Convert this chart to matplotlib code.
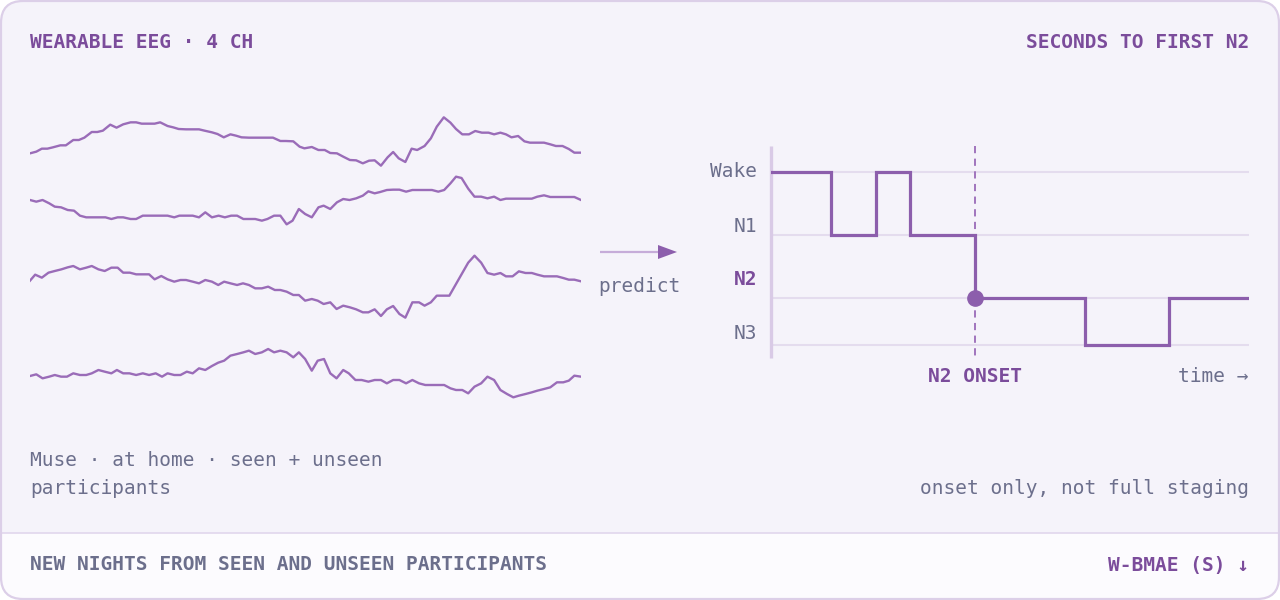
import matplotlib
matplotlib.use("Agg")
import matplotlib.pyplot as plt
from matplotlib.patches import FancyBboxPatch, Rectangle, Polygon
import numpy as np

# ---------------- data ----------------
# EEG channels: time in ms, amplitude in arbitrary units
ch1_t = [0,17,32,47,62,82,97,117,132,147,167,182,197,217,234,252,272,287,302,322,337,352,372,387,402,422,442,457,472,492,507,524,542,557,572,592,612,632,657,677,692,712,729,742,762,780,797,812,830,847,865,882,900,917,932,949,967,982,997,1015,1032,1047,1067,1084,1100,1119,1137,1152,1169,1187,1204,1222,1240,1255,1272,1287,1302,1320,1337,1352,1372,1390,1407,1422,1440,1457,1472,1490]
ch1_v = [0,5,14,14,18,24,24,40,40,47,64,64,68,86,77,87,93,93,89,89,89,93,82,78,73,72,72,72,68,63,58,48,57,53,48,47,47,47,47,37,37,36,20,15,19,10,10,1,0,-10,-20,-21,-30,-22,-21,-37,-12,4,-15,-26,14,10,22,45,80,108,92,73,57,57,67,62,62,57,62,57,48,52,36,32,32,32,27,22,22,13,2,2]

ch2_t = [0,17,34,52,67,84,102,119,135,152,172,187,204,220,237,252,272,287,305,322,340,357,372,390,404,422,440,457,474,492,510,527,544,560,577,592,609,627,642,660,677,694,710,727,744,762,780,794,812,830,847,864,882,900,915,932,947,965,982,999,1017,1034,1052,1069,1087,1104,1120,1137,1152,1167,1185,1202,1220,1237,1255,1272,1287,1305,1322,1340,1357,1372,1390,1407,1425,1442,1457,1472,1490]
ch2_v = [0,-5,0,-10,-20,-22,-30,-32,-47,-52,-52,-52,-52,-57,-52,-52,-57,-57,-47,-47,-47,-47,-47,-52,-47,-47,-47,-52,-37,-52,-47,-52,-47,-47,-57,-57,-57,-62,-57,-47,-47,-73,-62,-27,-42,-52,-22,-17,-27,-7,3,0,5,13,26,20,24,30,31,31,25,30,30,30,30,25,30,50,70,66,34,10,10,5,10,0,4,4,4,4,4,10,14,9,9,9,9,9,0]

ch3_t = [0,14,32,50,67,85,102,117,135,152,167,185,202,220,237,252,270,287,305,322,337,355,372,390,407,422,440,457,474,492,509,525,542,560,576,592,609,627,644,662,677,694,712,727,744,762,778,794,812,829,847,865,882,900,915,932,949,965,982,999,1015,1034,1052,1067,1084,1100,1117,1134,1152,1169,1185,1202,1220,1237,1255,1272,1287,1305,1322,1340,1357,1372,1390,1407,1425,1442,1457,1472,1490]
ch3_v = [0,18,9,24,29,34,40,44,34,39,44,34,29,39,39,24,24,19,19,19,4,14,4,-3,2,2,-3,-8,2,-3,-13,-3,-8,-13,-8,-13,-23,-23,-18,-28,-28,-33,-43,-43,-60,-55,-60,-70,-65,-85,-75,-80,-86,-95,-95,-86,-106,-86,-76,-100,-111,-65,-65,-75,-65,-45,-45,-45,-10,23,54,75,54,23,18,23,13,13,28,23,23,18,13,13,13,8,3,3,-2]

ch4_t = [0,17,34,52,67,84,100,117,135,152,167,185,202,220,235,252,269,287,305,322,340,357,372,390,407,424,440,457,474,492,509,525,542,560,577,592,609,627,644,660,677,694,712,727,744,762,778,795,812,829,847,862,880,897,915,932,949,965,982,999,1017,1034,1052,1069,1087,1104,1120,1137,1152,1169,1185,1202,1220,1237,1255,1272,1290,1307,1322,1340,1357,1372,1390,1407,1425,1442,1457,1472,1490]
ch4_v = [0,5,-7,-2,3,-2,-2,8,3,3,8,18,13,8,18,8,8,3,8,3,8,-2,8,3,3,13,8,23,18,30,40,46,61,66,71,76,66,71,81,71,76,71,56,71,51,16,46,51,8,-7,18,8,-12,-12,-17,-12,-12,-22,-12,-12,-22,-12,-22,-27,-27,-27,-27,-37,-42,-42,-52,-32,-22,-2,-12,-42,-54,-64,-59,-54,-49,-44,-39,-34,-19,-19,-14,1,-2]

# Hypnogram: minutes, stage per segment (steps-post)
hyp_t = [0, 6, 10.5, 14, 20.5, 31.5, 40, 48]
hyp_stage = ["Wake", "N1", "Wake", "N1", "N2", "N3", "N2", "N2"]
stage_names = ["Wake", "N1", "N2", "N3"]
onset_t = 20.5

title_left = "WEARABLE EEG · 4 CH"
title_right = "SECONDS TO FIRST N2"
note_left = ["Muse · at home · seen + unseen", "participants"]
note_right = "onset only, not full staging"
footer_left = "NEW NIGHTS FROM SEEN AND UNSEEN PARTICIPANTS"
footer_right = "W-BMAE (S) ↓"

# ---------------- style ----------------
PURPLE = "#7b4c9b"
LINE = "#8c5eac"
TRACE = "#9a6cb8"
GRAY = "#6c6f8c"
CARD = "#f5f3fa"
FOOT = "#fcfbfe"
BORDER = "#dccfe8"
GRID = "#e4dcee"
FONT = ["DejaVu Sans Mono"]
FS = 14

plt.rcParams["font.family"] = FONT

fig = plt.figure(figsize=(12.8, 6), dpi=100)
fig.patch.set_facecolor("white")

W, H = 1280, 600
bg = fig.add_axes([0, 0, 1, 1])
bg.set_xlim(0, W)
bg.set_ylim(H, 0)
bg.axis("off")

card = FancyBboxPatch((1, 1), W - 2, H - 2, boxstyle="round,pad=0,rounding_size=22",
                      fc=CARD, ec="none", zorder=0)
bg.add_patch(card)
foot = Rectangle((0, 533), W, H - 533, fc=FOOT, ec="none", zorder=0.5)
bg.add_patch(foot)
foot.set_clip_path(card)
bg.plot([1, W - 1], [533, 533], color="#e3d9ee", lw=1.3, zorder=1)
bg.add_patch(FancyBboxPatch((1, 1), W - 2, H - 2, boxstyle="round,pad=0,rounding_size=22",
                            fc="none", ec=BORDER, lw=1.6, zorder=2))

# texts
bg.text(30, 43, title_left, color=PURPLE, fontsize=FS, fontweight="bold", ha="left", va="center")
bg.text(1249, 43, title_right, color=PURPLE, fontsize=FS, fontweight="bold", ha="right", va="center")
bg.text(30, 461, note_left[0], color=GRAY, fontsize=FS, ha="left", va="center")
bg.text(30, 489, note_left[1], color=GRAY, fontsize=FS, ha="left", va="center")
bg.text(1249, 489, note_right, color=GRAY, fontsize=FS, ha="right", va="center")
bg.text(30, 565, footer_left, color=GRAY, fontsize=FS, fontweight="bold", ha="left", va="center")
bg.text(1249, 565, footer_right, color=PURPLE, fontsize=FS, fontweight="bold", ha="right", va="center")

# predict arrow
bg.plot([600, 660], [252, 252], color="#c6acd9", lw=1.6, solid_capstyle="butt", zorder=3)
bg.add_patch(Polygon([[658, 245], [677, 252], [658, 259]], closed=True, fc=LINE, ec="none", zorder=3))
bg.text(639, 287, "predict", color=GRAY, fontsize=FS, ha="center", va="center")

# ---------------- EEG traces ----------------
eeg = fig.add_axes([30 / W, 1 - 420 / H, 551 / W, 320 / H])
eeg.patch.set_visible(False)
eeg.axis("off")
eeg.set_xlim(0, 1490)
eeg.set_ylim(-960, 0)
offsets = [-160, -300, -542, -828]
for (t, v), off in zip([(ch1_t, ch1_v), (ch2_t, ch2_v), (ch3_t, ch3_v), (ch4_t, ch4_v)], offsets):
    eeg.plot(t, np.array(v) + off, color=TRACE, lw=1.7, solid_joinstyle="round")

# ---------------- Hypnogram ----------------
hyp = fig.add_axes([771 / W, 1 - 358 / H, 478 / W, 212 / H])
hyp.patch.set_visible(False)
hyp.axis("off")
hyp.set_xlim(0, 48)
stage_level = {"Wake": 0.0, "N1": 1.0, "N2": 2.0, "N3": 2.75}
hyp.set_ylim(2.95, -0.41)
for s in stage_names:
    hyp.plot([0, 48], [stage_level[s]] * 2, color=GRID, lw=1.5, zorder=1)
hyp.plot([0, 0], [-0.41, 2.95], color="#d9cae6", lw=2.4, solid_capstyle="butt", zorder=2, clip_on=False)
hyp.plot(hyp_t, [stage_level[s] for s in hyp_stage], drawstyle="steps-post",
         color=LINE, lw=2.3, zorder=4, solid_joinstyle="miter")
hyp.plot([onset_t, onset_t], [-0.41, 2.95], color="#9a6ab8", lw=1.3, dashes=(4, 3), zorder=3)
hyp.plot([onset_t], [stage_level["N2"]], "o", ms=11, color=LINE, zorder=5)

label_y = {"Wake": 0.0, "N1": 0.86, "N2": 1.70, "N3": 2.56}
for s in stage_names:
    bold = s == "N2"
    hyp.text(-0.029, label_y[s], s, transform=hyp.get_yaxis_transform(),
             ha="right", va="center", fontsize=FS,
             color=PURPLE if bold else GRAY, fontweight="bold" if bold else "normal")
hyp.text(onset_t, 3.24, "N2 ONSET", ha="center", va="center", fontsize=FS,
         fontweight="bold", color=PURPLE, clip_on=False)
hyp.text(48, 3.24, "time →", ha="right", va="center", fontsize=FS, color=GRAY, clip_on=False)

fig.savefig("out.png", dpi=100)
